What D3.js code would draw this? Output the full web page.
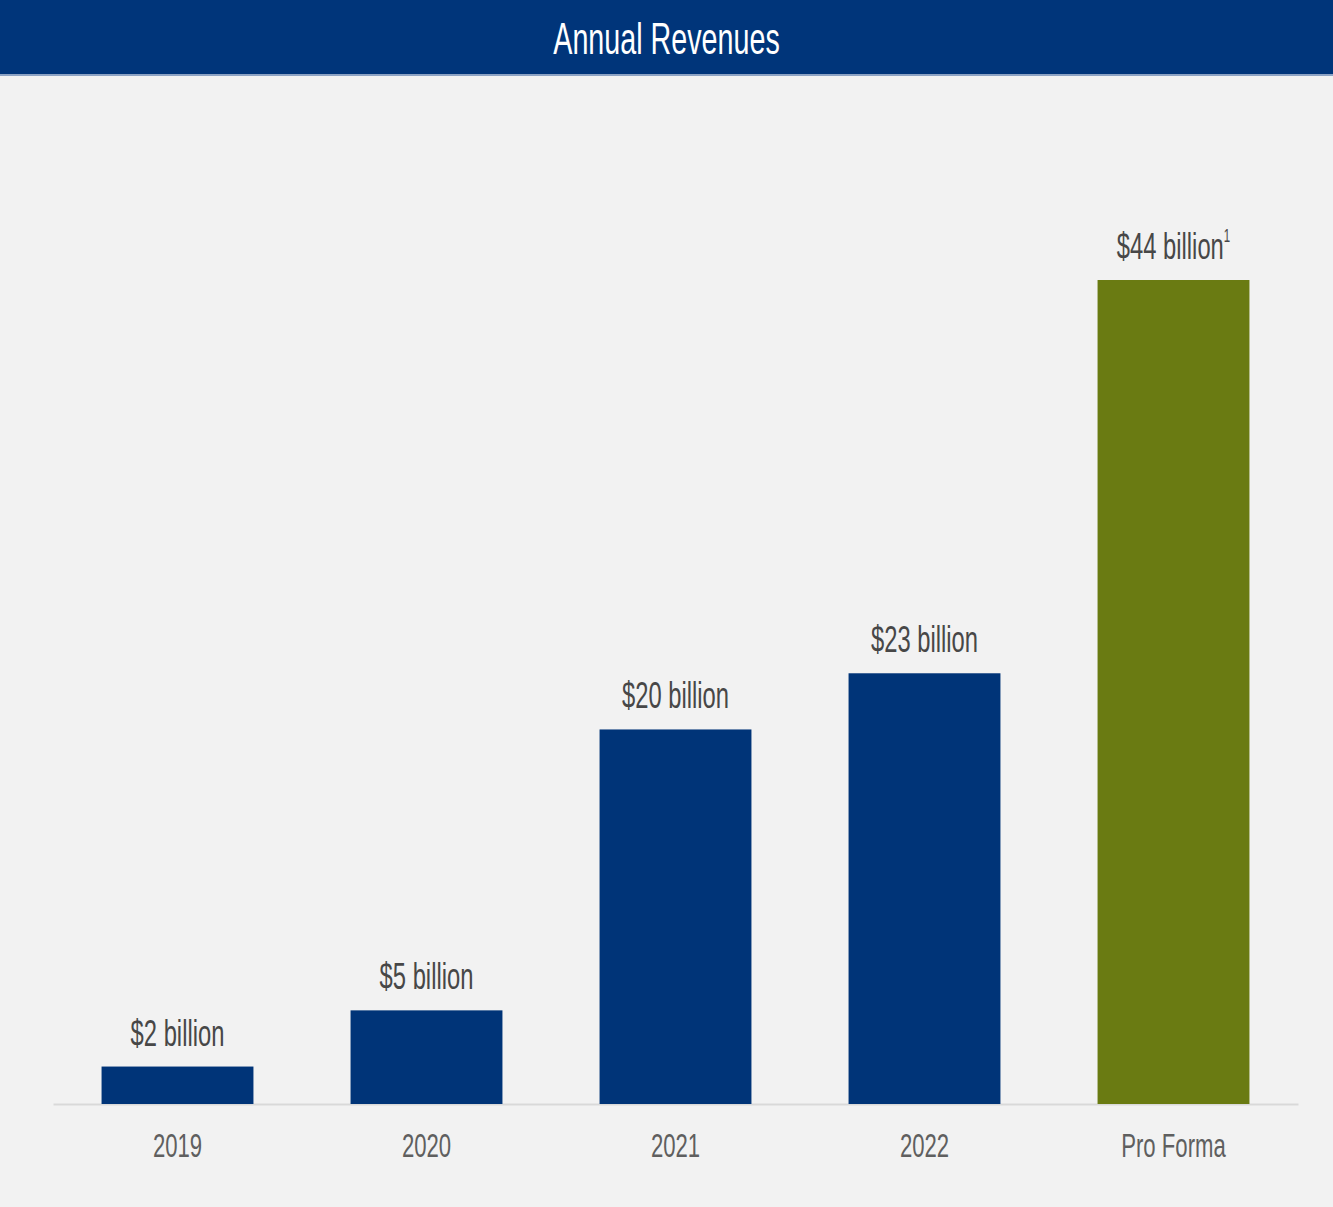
<!DOCTYPE html>
<html lang="en">
<head>
    <meta charset="UTF-8">
    <title>Annual Revenues</title>
    <script src="https://d3js.org/d3.v7.min.js"></script>
    <style>
        body { margin: 0; background: #f2f2f2; }
        text { font-family: "Liberation Sans Narrow", "Arial Narrow", "Liberation Sans", sans-serif; }
    </style>
</head>
<body>
    <div id="chart"></div>
    <script>
        const categories = ['2019', '2020', '2021', '2022', 'Pro Forma'];
        const revenues = [2, 5, 20, 23, 44];
        const valueLabels = ['$2 billion', '$5 billion', '$20 billion', '$23 billion', '$44 billion'];
        const footnotes = ['', '', '', '', '1'];

        const width = 1333;
        const height = 1207;
        const squeeze = 0.82;  // teksten er smallere ...
        const stretch = 1.25;  // ... og strakt lodret i originalen

        const svg = d3.select('#chart')
            .append('svg')
            .attr('width', width)
            .attr('height', height);

        svg.append('rect')
            .attr('width', width).attr('height', height)
            .attr('fill', '#f2f2f2');

        // Titelbjælke
        svg.append('rect')
            .attr('x', 0).attr('y', 0)
            .attr('width', width).attr('height', 75)
            .attr('fill', '#00357a');
        svg.append('rect')
            .attr('x', 0).attr('y', 74)
            .attr('width', width).attr('height', 2)
            .attr('fill', '#8da3c4');

        svg.append('text')
            .attr('transform', `translate(${width / 2},${54}) scale(${squeeze},${stretch})`)
            .attr('text-anchor', 'middle')
            .attr('fill', '#ffffff')
            .attr('font-size', '35px')
            .text('Annual Revenues');

        const x = d3.scaleBand()
            .domain(categories)
            .range([53, 1298])
            .paddingInner(0.39)
            .paddingOuter(0.195);

        const y = d3.scaleLinear()
            .domain([0, 44])
            .range([1104, 280]);

        // Akselinje
        const axis = svg.append('g')
            .attr('transform', `translate(0,${y(0)})`)
            .call(d3.axisBottom(x).tickSize(0).tickPadding(0));
        axis.select('.domain').attr('stroke', '#d9d9d9').attr('stroke-width', 2);
        axis.selectAll('.tick text').remove();

        svg.selectAll('text.tick-label')
            .data(categories)
            .join('text')
            .classed('tick-label', true)
            .attr('transform', d => `translate(${x(d) + x.bandwidth() / 2},${1157}) scale(${squeeze},${stretch})`)
            .attr('text-anchor', 'middle')
            .attr('fill', '#5f5f5f')
            .attr('font-size', '27px')
            .text(d => d);

        // Søjler
        svg.selectAll('rect.bar')
            .data(categories)
            .join('rect')
            .classed('bar', true)
            .attr('x', d => x(d))
            .attr('width', x.bandwidth())
            .attr('y', (d, i) => y(revenues[i]))
            .attr('height', (d, i) => y(0) - y(revenues[i]))
            .attr('fill', (d, i) => i === categories.length - 1 ? '#6a7b12' : '#003478');

        // Værdilabels
        const labels = svg.selectAll('text.value-label')
            .data(categories)
            .join('text')
            .classed('value-label', true)
            .attr('transform', (d, i) => `translate(${x(d) + x.bandwidth() / 2},${y(revenues[i]) - 21}) scale(${squeeze},${stretch})`)
            .attr('text-anchor', 'middle')
            .attr('fill', '#474747')
            .attr('font-size', '29px');
        labels.append('tspan').text((d, i) => valueLabels[i]);
        labels.append('tspan')
            .attr('font-size', '14px')
            .attr('dy', -14)
            .text((d, i) => footnotes[i]);
    </script>
</body>
</html>
